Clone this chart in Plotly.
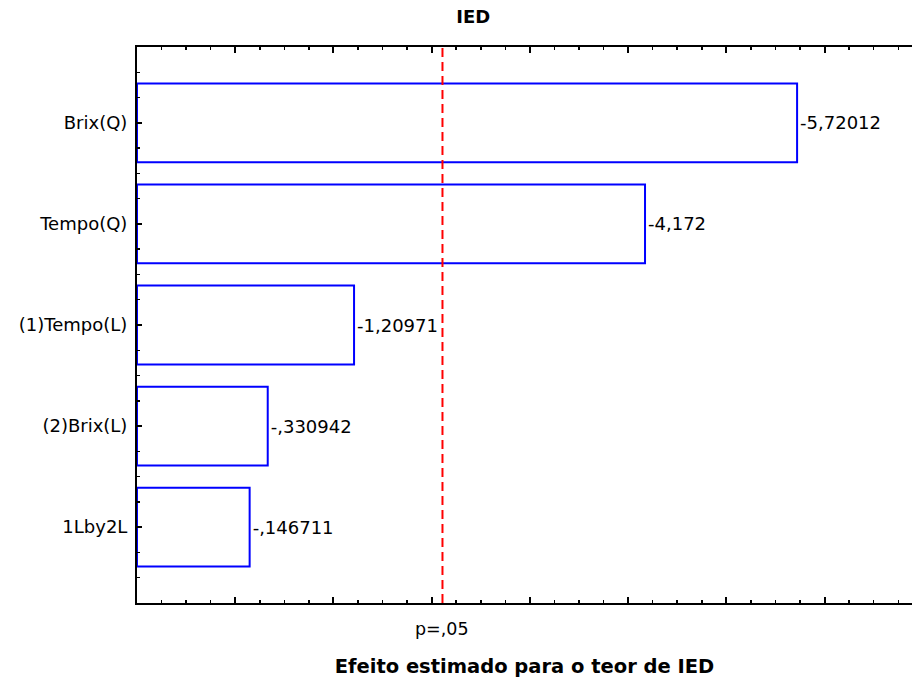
import plotly.graph_objects as go

factors = ["Brix(Q)", "Tempo(Q)", "(1)Tempo(L)", "(2)Brix(L)", "1Lby2L"]
effects = [-5.72012, -4.172, -1.20971, -0.330942, -0.146711]
effect_labels = ["-5,72012", "-4,172", "-1,20971", "-,330942", "-,146711"]
p_crit = 2.11
axis_start = -1.0

ypos = list(range(len(factors)))
lengths = [abs(v) - axis_start for v in effects]

FONT = "DejaVu Sans, Arial, sans-serif"

fig = go.Figure()
fig.add_trace(go.Bar(
    y=ypos, x=lengths, base=axis_start, orientation="h",
    width=0.78,
    marker=dict(color="white", line=dict(color="#0000FF", width=2)),
    text=effect_labels, textposition="outside", cliponaxis=False,
    textfont=dict(family=FONT, size=18, color="black"),
    hoverinfo="skip",
))

fig.add_shape(type="line", x0=p_crit, x1=p_crit, y0=0, y1=1,
              xref="x", yref="y domain",
              line=dict(color="red", width=2, dash="9px,5px"))

fig.add_annotation(x=p_crit, y=-0.025, xref="x", yref="paper",
                   text="p=,05", showarrow=False, yanchor="top",
                   font=dict(family=FONT, size=17.5, color="black"))

fig.update_layout(
    width=912, height=682, autosize=False,
    margin=dict(l=137, r=0, t=47, b=79),
    plot_bgcolor="white", paper_bgcolor="white",
    showlegend=False,
    title=dict(text="<b>IED</b>", x=0.519, xanchor="center", xref="container",
               y=0.975, yanchor="middle", yref="container",
               font=dict(family=FONT, size=18, color="black")),
    xaxis=dict(
        range=[axis_start, 6.89],
        tickvals=[0, 1, 2, 3, 4, 5, 6],
        showticklabels=False,
        ticks="inside", ticklen=6, tickwidth=2, tickcolor="black",
        minor=dict(dtick=0.25, tick0=0, ticks="inside", ticklen=3, tickwidth=1.5, tickcolor="black"),
        showline=True, linecolor="black", linewidth=2, mirror="allticks",
        showgrid=False, zeroline=False,
        title=dict(text="<b>Efeito estimado para o teor de IED</b>", standoff=55,
                   font=dict(family=FONT, size=19.5, color="black")),
    ),
    yaxis=dict(
        range=[4.75, -0.75],
        tickvals=ypos, ticktext=factors,
        ticks="inside", ticklen=5, tickwidth=2, tickcolor="black",
        minor=dict(dtick=0.25, tick0=0, ticks="inside", ticklen=3, tickwidth=1.5, tickcolor="black"),
        showline=True, linecolor="black", linewidth=2,
        showgrid=False, zeroline=False,
        tickfont=dict(family=FONT, size=18, color="black"),
        ticklabelstandoff=4,
    ),
)

fig.write_html("out.html",
               config={"displayModeBar": False, "staticPlot": True},
               post_script="document.body.style.margin='0';document.body.style.overflow='hidden';")
